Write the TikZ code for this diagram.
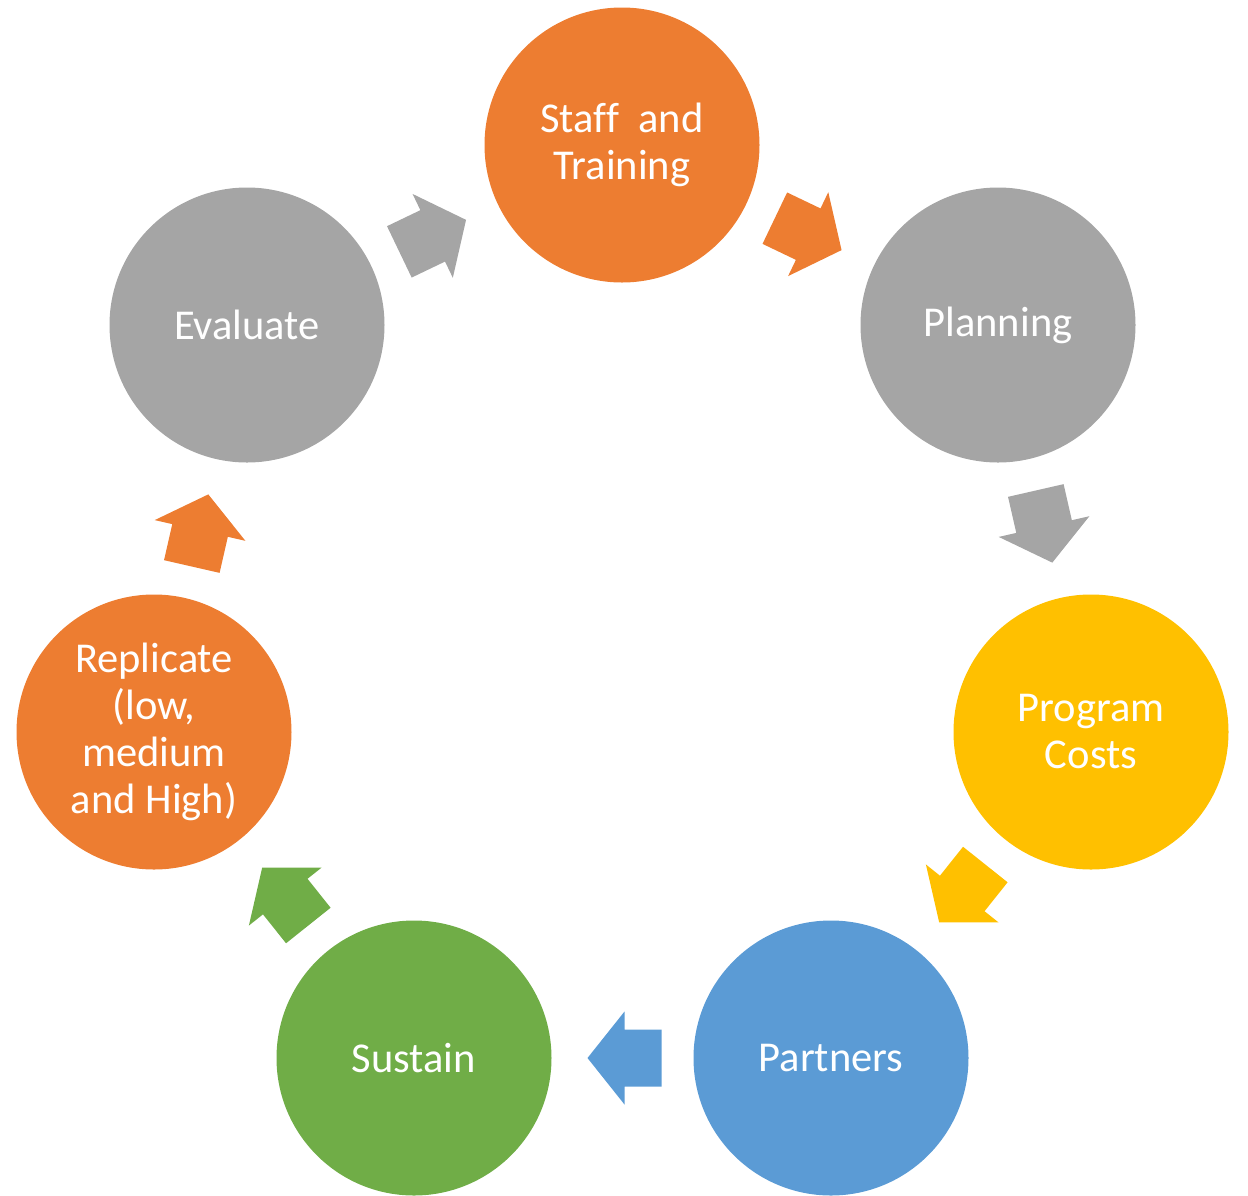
\documentclass[tikz,border=0pt]{standalone}
\usepackage{fontspec}
\setmainfont{Carlito}[Ligatures=NoCommon]
\usetikzlibrary{calc}

\definecolor{cOrange}{HTML}{ED7D31}
\definecolor{cGray}{HTML}{A5A5A5}
\definecolor{cGold}{HTML}{FFC000}
\definecolor{cBlue}{HTML}{5B9BD5}
\definecolor{cGreen}{HTML}{70AD47}

\tikzset{
  stage/.style={circle, fill=#1, minimum size=275pt, inner sep=0pt,
    text=white, align=center, font=\fontsize{42.5}{47}\selectfont},
}

% Block arrow centred between two stages, pointing from #1 to #2, filled with #3
\newcommand\cyclearrow[3]{%
  \coordinate (m#1#2) at ($(#1)!0.5!(#2)$);
  \coordinate (t#1#2) at ($(m#1#2)!39pt!(#1)$);
  \coordinate (p#1#2) at ($(m#1#2)!35pt!(#2)$);
  \coordinate (h#1#2) at ($(m#1#2)!2pt!(#1)$);
  \fill[#3]
    ($(t#1#2)!28.5pt!90:(p#1#2)$) --
    ($(h#1#2)!28.5pt!90:(p#1#2)$) --
    ($(h#1#2)!46.5pt!90:(p#1#2)$) --
    (p#1#2) --
    ($(h#1#2)!46.5pt!-90:(p#1#2)$) --
    ($(h#1#2)!28.5pt!-90:(p#1#2)$) --
    ($(t#1#2)!28.5pt!-90:(p#1#2)$) -- cycle;
}

\begin{document}
\begin{tikzpicture}[x=1pt,y=-1pt]
  \useasboundingbox (0,0) rectangle (1248,1195);

  \node[stage=cOrange] (staff)  at (622,145)  {Staff\ \ and\\Training};
  \node[stage=cGray]   (plan)   at (998,325)  {Planning};
  \node[stage=cGold]   (cost)   at (1091,732) {Program\\Costs};
  \node[stage=cBlue]   (part)   at (831,1058) {Partners};
  \node[stage=cGreen]  (sust)   at (414,1058) {Sustain};
  \node[stage=cOrange] (repl)   at (154,732)  {Replicate\\(low,\\medium\\and High)};
  \node[stage=cGray]   (eval)   at (247,325)  {Evaluate};

  \cyclearrow{staff}{plan}{cOrange}
  \cyclearrow{plan}{cost}{cGray}
  \cyclearrow{cost}{part}{cGold}
  \cyclearrow{part}{sust}{cBlue}
  \cyclearrow{sust}{repl}{cGreen}
  \cyclearrow{repl}{eval}{cOrange}
  \cyclearrow{eval}{staff}{cGray}
\end{tikzpicture}
\end{document}
